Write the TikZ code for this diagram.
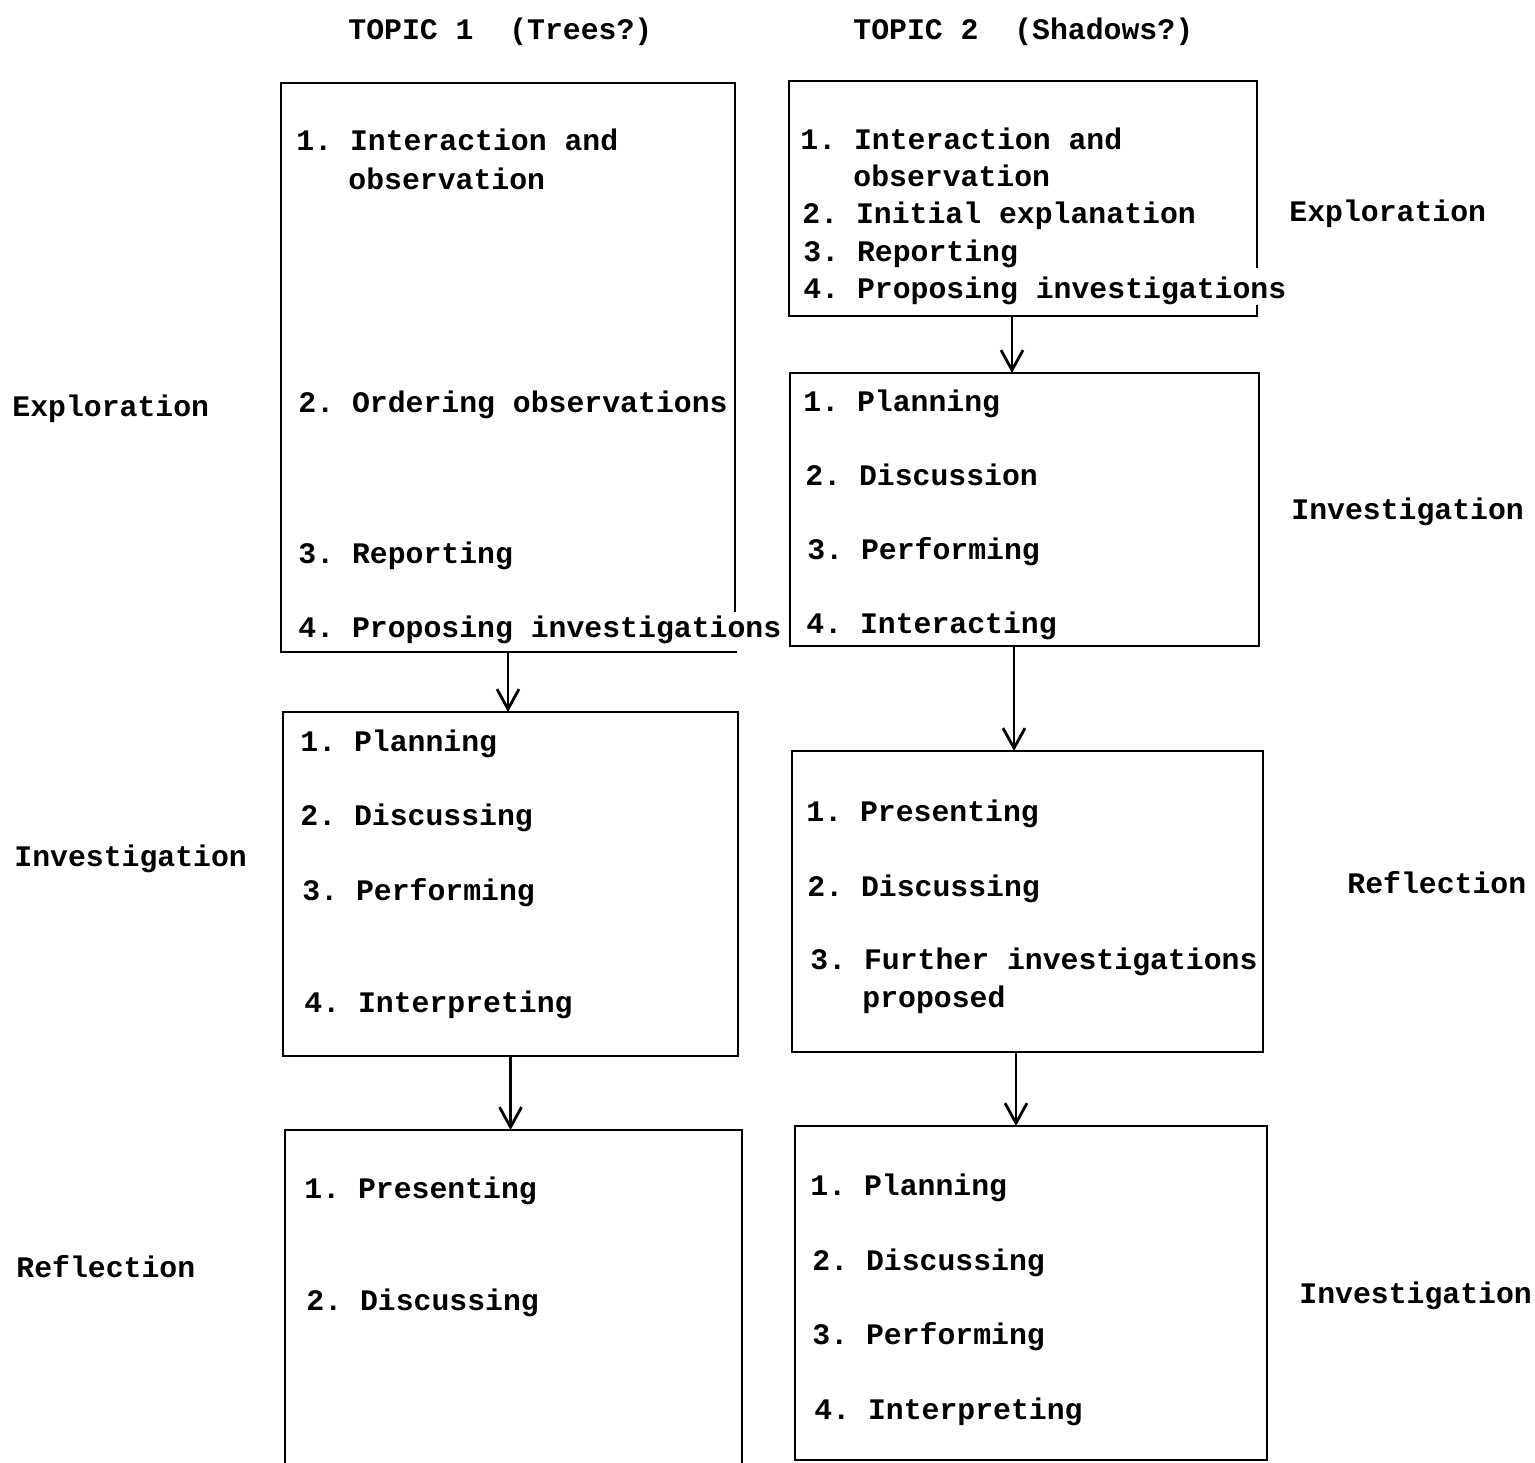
\documentclass[tikz,border=0pt]{standalone}
\usepackage{fontspec}
\setmainfont{Liberation Mono}
\usetikzlibrary{arrows.meta}
\tikzset{
  frame/.style={line width=1.4pt},
  panel/.style={frame, draw, inner sep=0pt, outer sep=0pt},
  openpanel/.style={panel, draw=none},
  item/.style={anchor=base west, inner sep=0pt, font=\fontsize{14.9}{18}\selectfont\bfseries},
  phase/.style={item},
  flow/.style={line width=1.4pt, -{Straight Barb[length=10pt, width=11pt, line width=1.4pt]}},
}
% \panel[style]{name}{x1}{y1}{x2}{y2}: box between two corners (pixel grid)
\newcommand\panel[6][panel]{%
  \node[#1, minimum width={(#5-#3)*0.5pt}, minimum height={(#6-#4)*0.5pt}]
    (#2) at ({(#3+#5)/2},{(#4+#6)/2}) {};}
\frenchspacing
\begin{document}
\begin{tikzpicture}[x=0.5pt, y=-0.5pt]
\useasboundingbox (0,0) rectangle (1535,1462);
\clip (0,0) rectangle (1535,1462);

% column headings
\node[item] (h1) at (348,39) {TOPIC 1~~(Trees?)};
\node[item] (h2) at (853,39) {TOPIC 2~~(Shadows?)};

% ---- Topic 1 ----
\panel[openpanel]{L1}{281}{83}{735}{652}
% right side left open where the last line runs past it
\draw[frame] ([yshift=20pt]L1.south east) -- (L1.north east) -- (L1.north west)
  -- (L1.south west) -- ([xshift=1pt]L1.south east);
\panel{L2}{283}{712}{738}{1056}
\panel{L3}{285}{1130}{742}{1480}

\node[item] (l1a) at (296,150) {1. Interaction and};
\node[item] (l1b) at (348,189) {observation};
\node[item] (l1c) at (298,412) {2. Ordering observations};
\node[item] (l1d) at (298,563) {3. Reporting};
\node[item] (l1e) at (298,637) {4. Proposing investigations};

\node[item] (l2a) at (300,751) {1. Planning};
\node[item] (l2b) at (300,825) {2. Discussing};
\node[item] (l2c) at (302,900) {3. Performing};
\node[item] (l2d) at (304,1012) {4. Interpreting};

\node[item] (l3a) at (304,1198) {1. Presenting};
\node[item] (l3b) at (306,1310) {2. Discussing};

\node[phase] (p1) at (12,416) {Exploration};
\node[phase] (p2) at (14,866) {Investigation};
\node[phase] (p3) at (16,1277) {Reflection};

\draw[flow] (L1.south) -- (L1.south |- L2.north);
\draw[flow] (L2.south) -- (L2.south |- L3.north);

% ---- Topic 2 ----
\panel[openpanel]{R1}{789}{81}{1257}{316}
% right side broken around the last line, with a short return at the corner
\draw[frame] ([yshift=24pt]R1.south east) -- (R1.north east) -- (R1.north west)
  -- (R1.south west) -- (R1.south east) -- ([yshift=5.5pt]R1.south east);
\panel{R2}{790}{373}{1259}{646}
\panel{R3}{792}{751}{1263}{1052}
\panel{R4}{795}{1126}{1267}{1460}

\node[item] (r1a) at (800,149) {1. Interaction and};
\node[item] (r1b) at (853,186) {observation};
\node[item] (r1c) at (802,223) {2. Initial explanation};
\node[item] (r1d) at (803,261) {3. Reporting};
\node[item] (r1e) at (803,298) {4. Proposing investigations};

\node[item] (r2a) at (803,411) {1. Planning};
\node[item] (r2b) at (805,485) {2. Discussion};
\node[item] (r2c) at (807,559) {3. Performing};
\node[item] (r2d) at (806,633) {4. Interacting};

\node[item] (r3a) at (806,821) {1. Presenting};
\node[item] (r3b) at (807,896) {2. Discussing};
\node[item] (r3c) at (810,969) {3. Further investigations};
\node[item] (r3d) at (862,1007) {proposed};

\node[item] (r4a) at (810,1195) {1. Planning};
\node[item] (r4b) at (812,1270) {2. Discussing};
\node[item] (r4c) at (812,1344) {3. Performing};
\node[item] (r4d) at (814,1419) {4. Interpreting};

\node[phase] (q1) at (1289,221) {Exploration};
\node[phase] (q2) at (1291,519) {Investigation};
\node[phase] (q3) at (1347,893) {Reflection};
\node[phase] (q4) at (1299,1303) {Investigation};

\draw[flow] ([xshift=-5.5pt]R1.south) -- ([xshift=-5.5pt]R1.south |- R2.north);
\draw[flow] ([xshift=-5.25pt]R2.south) -- ([xshift=-5.25pt]R2.south |- R3.north);
\draw[flow] ([xshift=-5.75pt]R3.south) -- ([xshift=-5.75pt]R3.south |- R4.north);
\end{tikzpicture}
\end{document}
